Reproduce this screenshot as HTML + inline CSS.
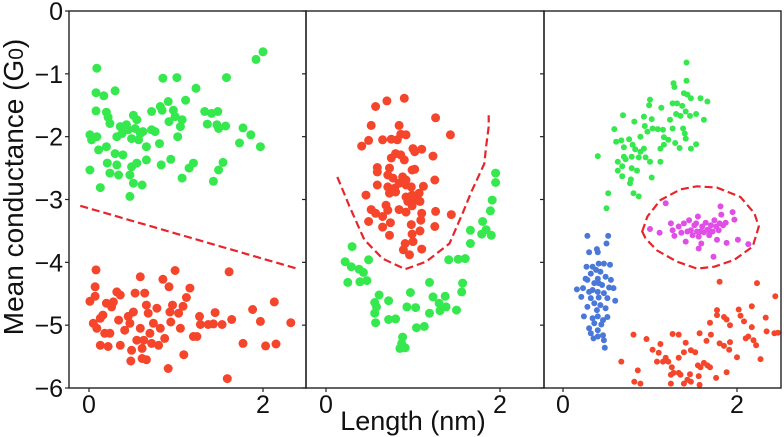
<!DOCTYPE html>
<html><head><meta charset="utf-8"><style>
html,body{margin:0;padding:0;background:#fff;}
svg{display:block;font-family:"Liberation Sans",sans-serif;}
</style></head><body>
<svg id="chart" width="784" height="437" viewBox="0 0 784 437" xmlns="http://www.w3.org/2000/svg">
<text x="0" y="0" transform="translate(23,187) rotate(-90)" text-anchor="middle" font-size="28" fill="#111">Mean conductance (G<tspan font-size="21">0</tspan>)</text>
<text x="413" y="430" text-anchor="middle" font-size="27" fill="#111">Length (nm)</text>
<g id="marks"></g>
<g id="axes"></g>
</svg>
<script>
const yTicks=[0,-1,-2,-3,-4,-5,-6];
const yTickLabels=["0","\u22121","\u22122","\u22123","\u22124","\u22125","\u22126"];
const xTicks=[0,2];
const xTickLabels=["0","2"];
// panel 1
const p1GreenX=[0.09,0.08,0.17,0.30,0.08,0.20,0.22,0.24,0.01,0.03,0.09,0.11,0.13,0.01,0.20,0.21,0.24,0.34,0.30,0.32,0.36,0.38,0.43,0.45,0.32,0.39,0.49,0.51,0.55,0.53,0.59,0.57,0.62,0.49,0.55,0.47,0.51,0.61,0.47,0.66,0.66,0.72,0.72,0.76,0.82,0.84,0.81,0.83,0.85,0.91,0.97,0.99,0.92,0.94,1.02,1.05,1.07,1.01,1.11,1.07,1.15,1.20,1.23,1.33,1.36,1.41,1.48,1.47,1.49,1.43,1.49,1.54,1.58,1.57,1.73,1.77,1.86,1.97,1.92,2.00];
const p1GreenY=[-0.91,-1.30,-1.35,-1.27,-1.59,-1.61,-1.69,-1.79,-1.97,-2.05,-2.00,-2.21,-2.81,-2.53,-2.16,-2.42,-2.58,-2.61,-2.27,-2.00,-1.84,-1.95,-1.81,-1.89,-2.45,-2.29,-2.03,-1.66,-1.73,-1.87,-1.95,-2.05,-1.92,-2.48,-2.42,-2.61,-2.74,-2.77,-2.95,-2.16,-2.37,-1.60,-1.89,-1.92,-1.52,-1.58,-2.11,-2.45,-1.07,-1.44,-1.58,-1.68,-1.76,-2.36,-2.00,-1.84,-1.73,-1.06,-1.42,-2.66,-2.50,-2.42,-1.23,-1.60,-1.80,-1.63,-1.60,-1.81,-1.87,-2.71,-2.53,-2.41,-1.06,-1.83,-2.10,-1.86,-1.97,-2.16,-0.77,-0.65];
const p1RedX=[0.08,0.07,0.07,0.01,0.05,0.09,0.13,0.16,0.20,0.26,0.28,0.32,0.36,0.13,0.22,0.18,0.24,0.34,0.36,0.41,0.45,0.47,0.49,0.48,0.51,0.53,0.55,0.59,0.61,0.63,0.61,0.66,0.59,0.64,0.66,0.68,0.70,0.72,0.74,0.78,0.80,0.82,0.85,0.87,0.91,0.93,0.94,0.92,0.96,0.99,1.03,1.05,1.08,1.09,1.12,1.16,1.20,1.24,1.27,1.28,1.37,1.43,1.45,1.53,1.61,1.59,1.64,1.77,1.88,1.97,2.03,2.13,2.15,2.32];
const p1RedY=[-4.12,-4.39,-4.54,-4.62,-4.97,-5.05,-4.89,-4.84,-4.65,-4.71,-4.63,-4.47,-4.52,-5.32,-5.34,-5.13,-5.13,-4.92,-5.32,-5.08,-4.86,-4.97,-5.40,-5.57,-4.79,-4.49,-5.24,-5.05,-5.37,-5.24,-5.53,-5.55,-4.23,-4.49,-4.68,-4.81,-5.13,-5.29,-4.97,-4.73,-5.32,-5.05,-4.27,-5.21,-5.69,-4.79,-4.95,-4.39,-4.68,-4.13,-4.81,-5.05,-4.70,-5.47,-4.56,-4.41,-5.18,-5.18,-4.86,-4.99,-4.99,-4.98,-4.80,-4.99,-4.15,-5.85,-4.91,-5.29,-4.75,-4.94,-5.33,-4.63,-5.30,-4.96];
const p1LineX=[-0.10,2.39];
const p1LineY=[-3.10,-4.10];
// panel 2
const p2RedX=[0.57,0.70,0.90,1.26,1.43,0.52,0.84,0.49,0.41,0.65,0.75,0.82,0.86,0.92,1.00,1.10,1.23,0.75,0.80,0.86,0.90,1.02,0.59,0.59,0.73,0.71,0.77,0.88,0.92,0.99,1.02,1.25,0.59,0.71,0.79,0.84,0.92,0.98,1.12,0.46,0.73,0.80,0.92,0.99,1.07,1.03,0.94,0.99,1.08,0.52,0.57,0.69,0.71,0.65,0.84,0.92,1.10,1.09,1.26,1.44,0.49,0.65,0.74,0.98,1.25,0.73,0.99,1.08,1.00,0.91,0.89,0.96,1.10];
const p2RedY=[-1.52,-1.43,-1.39,-1.70,-1.97,-1.82,-1.82,-2.06,-2.15,-2.05,-2.04,-2.05,-1.96,-1.97,-2.19,-2.20,-2.31,-2.34,-2.27,-2.29,-2.37,-2.24,-2.49,-2.56,-2.50,-2.61,-2.66,-2.64,-2.69,-2.53,-2.52,-2.69,-2.77,-2.80,-2.82,-2.74,-2.77,-2.80,-2.79,-2.93,-2.90,-2.88,-2.96,-2.93,-2.90,-3.01,-3.03,-3.10,-3.03,-3.16,-3.22,-3.09,-3.17,-3.27,-3.16,-3.20,-3.22,-3.33,-3.19,-3.24,-3.35,-3.44,-3.37,-3.40,-3.43,-3.57,-3.55,-3.50,-3.67,-3.70,-3.80,-3.88,-3.79];
const p2GreenX=[1.95,1.95,1.91,1.89,1.80,1.84,1.79,1.90,1.66,1.66,1.60,1.52,1.41,0.30,0.22,0.29,0.38,0.43,0.49,0.25,0.39,0.47,0.61,0.56,0.58,0.56,0.57,0.72,0.72,0.80,0.93,0.97,1.03,1.04,1.13,0.88,0.87,0.85,0.91,1.19,1.23,1.19,1.30,1.31,1.37,1.38,1.50,1.56,1.57];
const p2GreenY=[-2.58,-2.73,-3.01,-3.18,-3.35,-3.48,-3.55,-3.57,-3.49,-3.70,-3.94,-3.95,-3.96,-3.75,-3.99,-4.07,-4.11,-4.16,-3.96,-4.32,-4.31,-4.29,-4.52,-4.64,-4.71,-4.81,-4.96,-4.61,-4.91,-4.90,-4.71,-4.48,-4.72,-5.04,-5.02,-5.19,-5.29,-5.37,-5.36,-4.32,-4.55,-4.81,-4.65,-4.77,-4.54,-4.71,-4.76,-4.47,-4.33];
const p2CurveX=[0.13,0.27,0.44,0.65,0.91,1.15,1.42,1.57,1.67,1.82,1.84,1.87,1.87];
const p2CurveY=[-2.64,-3.11,-3.64,-3.94,-4.11,-3.99,-3.70,-3.22,-2.88,-2.43,-2.16,-1.84,-1.66];
// panel 3
const p3GreenX=[1.42,1.42,1.27,1.28,1.39,1.43,1.47,1.58,1.66,1.26,1.31,1.00,0.99,1.13,1.37,1.41,1.30,1.35,1.46,1.53,1.62,0.69,0.82,0.93,1.02,1.23,0.94,1.03,1.09,1.15,1.26,1.38,0.59,0.97,0.89,1.16,1.21,1.29,1.40,1.41,1.53,0.61,0.67,0.76,0.80,0.70,0.83,0.93,0.89,1.16,1.12,1.34,1.47,0.40,0.70,0.72,0.79,0.87,0.95,1.00,1.12,0.63,0.68,0.79,0.85,0.63,0.68,1.02,0.78,0.77,0.81,0.87,0.52,0.50];
const p3GreenY=[-0.82,-1.11,-1.15,-1.21,-1.31,-1.33,-1.39,-1.39,-1.44,-1.47,-1.47,-1.41,-1.50,-1.54,-1.51,-1.60,-1.64,-1.67,-1.67,-1.64,-1.73,-1.66,-1.76,-1.68,-1.72,-1.73,-1.83,-1.87,-1.88,-1.89,-1.87,-1.87,-1.88,-1.92,-2.00,-2.01,-2.05,-2.10,-1.95,-2.03,-2.12,-2.08,-2.06,-2.04,-2.13,-2.17,-2.20,-2.19,-2.24,-2.13,-2.19,-2.18,-2.19,-2.31,-2.32,-2.36,-2.32,-2.33,-2.33,-2.40,-2.40,-2.40,-2.47,-2.50,-2.54,-2.54,-2.63,-2.65,-2.68,-2.74,-2.90,-2.95,-2.90,-3.14];
const p3MagX=[1.18,1.00,1.11,1.24,1.26,1.28,1.33,1.36,1.39,1.41,1.45,1.47,1.49,1.51,1.54,1.55,1.56,1.56,1.59,1.60,1.62,1.64,1.66,1.68,1.70,1.72,1.73,1.74,1.76,1.77,1.79,1.80,1.81,1.82,1.84,1.87,1.88,1.95,1.97,2.01,2.13,1.53,1.58,1.43,1.68];
const p3MagY=[-3.06,-3.47,-3.53,-3.38,-3.49,-3.58,-3.43,-3.53,-3.38,-3.67,-3.33,-3.49,-3.57,-3.41,-3.51,-3.27,-3.59,-3.78,-3.70,-3.43,-3.52,-3.37,-3.48,-3.57,-3.41,-3.51,-3.91,-3.33,-3.43,-3.64,-3.49,-3.38,-3.11,-3.24,-3.41,-3.37,-3.69,-3.20,-3.32,-3.64,-3.71,-3.38,-3.51,-3.51,-3.49];
const p3BlueX=[0.28,0.52,0.50,0.39,0.30,0.40,0.41,0.47,0.54,0.27,0.34,0.38,0.43,0.32,0.26,0.40,0.49,0.55,0.36,0.45,0.53,0.58,0.16,0.23,0.30,0.40,0.47,0.21,0.32,0.41,0.51,0.60,0.36,0.43,0.28,0.39,0.49,0.24,0.34,0.40,0.46,0.51,0.36,0.44,0.30,0.40,0.32,0.46,0.35,0.40,0.47,0.48,0.28,0.34,0.41];
const p3BlueY=[-3.58,-3.58,-3.70,-3.79,-3.84,-3.84,-4.02,-4.02,-4.04,-4.07,-4.07,-4.12,-4.15,-4.18,-4.26,-4.26,-4.23,-4.28,-4.33,-4.36,-4.40,-4.41,-4.43,-4.41,-4.47,-4.47,-4.49,-4.55,-4.57,-4.56,-4.57,-4.61,-4.65,-4.68,-4.71,-4.76,-4.73,-4.86,-4.89,-4.86,-4.92,-4.87,-4.97,-4.99,-5.05,-5.08,-5.13,-5.16,-5.21,-5.18,-5.24,-5.36,-4.28,-4.44,-4.33];
const p3RedX=[1.80,2.23,2.44,1.77,1.77,1.85,1.88,1.69,1.92,2.02,2.04,2.17,2.08,2.17,2.33,2.34,2.43,2.47,0.81,0.96,1.12,1.03,1.10,1.26,1.33,1.41,1.39,1.47,1.52,1.57,1.65,1.70,1.80,1.85,1.92,1.91,2.10,2.13,2.19,2.22,2.00,2.27,0.67,0.86,0.82,0.89,1.08,1.15,1.18,1.21,1.25,1.24,1.27,1.33,1.33,1.35,1.46,1.43,1.55,1.58,1.56,1.62,1.66,1.69,1.76,1.88,1.57,1.24,1.39,1.47];
const p3RedY=[-4.31,-4.33,-4.54,-4.76,-4.84,-4.87,-4.91,-4.96,-5.00,-4.75,-4.85,-4.70,-4.94,-5.03,-4.88,-5.10,-5.13,-5.12,-5.15,-5.22,-5.30,-5.39,-5.44,-5.14,-5.15,-5.28,-5.43,-5.40,-5.43,-5.13,-5.25,-5.15,-5.29,-5.33,-5.27,-5.39,-5.21,-5.18,-5.24,-5.32,-5.51,-5.54,-5.58,-5.72,-5.90,-5.93,-5.58,-5.58,-5.52,-5.58,-5.67,-5.79,-5.76,-5.52,-5.76,-5.79,-5.78,-5.87,-5.64,-5.67,-5.81,-5.60,-5.64,-5.67,-5.84,-5.75,-5.95,-5.93,-5.93,-5.90];
const p3EllX=[0.91,0.97,1.12,1.35,1.54,1.77,2.04,2.20,2.25,2.18,1.97,1.74,1.54,1.31,1.08,0.95,0.91];
const p3EllY=[-3.51,-3.27,-3.01,-2.84,-2.79,-2.81,-2.96,-3.22,-3.43,-3.75,-3.96,-4.07,-4.10,-3.99,-3.81,-3.62,-3.51];

const NS="http://www.w3.org/2000/svg";
const panels=[{l:69,r:306,x0:89},{l:306,r:544,x0:326},{l:544,r:781,x0:563}];
const TOP=11,BOT=388,XS=87;
function yPx(v){return TOP+(0-v)*(BOT-TOP)/6;}
function xPx(p,v){return panels[p].x0+v*XS;}
const marks=document.getElementById('marks');
const axes=document.getElementById('axes');
function clip(p){
  const id='clip'+p;
  if(!document.getElementById(id)){
    let cp=document.createElementNS(NS,'clipPath');cp.setAttribute('id',id);
    let r=document.createElementNS(NS,'rect');
    r.setAttribute('x',panels[p].l);r.setAttribute('y',TOP);r.setAttribute('width',panels[p].r-panels[p].l);r.setAttribute('height',BOT-TOP);
    cp.appendChild(r);document.getElementById('chart').appendChild(cp);
  }
  return 'url(#'+id+')';
}
function scatter(p,xs,ys,color,rad,name){
  const g=document.createElementNS(NS,'g');
  
  
  g.setAttribute('clip-path',clip(p));
  for(let i=0;i<xs.length;i++){
    const c=document.createElementNS(NS,'circle');
    
    
    c.setAttribute('cx',xPx(p,xs[i]).toFixed(1));c.setAttribute('cy',yPx(ys[i]).toFixed(1));
    c.setAttribute('r',rad);c.setAttribute('fill',color);
    g.appendChild(c);
  }
  marks.appendChild(g);
}
function dashed(p,xs,ys,name,close){
  const pl=document.createElementNS(NS,'path');
  
  
  let d='';
  for(let i=0;i<xs.length;i++)d+=(i?'L':'M')+xPx(p,xs[i]).toFixed(1)+','+yPx(ys[i]).toFixed(1);
  if(close)d+='Z';
  pl.setAttribute('d',d);pl.setAttribute('fill','none');pl.setAttribute('stroke','#e8242c');
  pl.setAttribute('stroke-width','2.2');pl.setAttribute('stroke-dasharray','8,4');
  marks.appendChild(pl);
}
const GREEN='#35e84e',RED='#f5452b',BLUE='#4a78d8',MAG='#e04ee6';
scatter(0,p1GreenX,p1GreenY,GREEN,4.5,'panel1-green-points');
scatter(0,p1RedX,p1RedY,RED,4.5,'panel1-red-points');
dashed(0,p1LineX,p1LineY,'panel1-divider-line',false);
scatter(1,p2RedX,p2RedY,RED,4.5,'panel2-red-points');
scatter(1,p2GreenX,p2GreenY,GREEN,4.5,'panel2-green-points');
dashed(1,p2CurveX,p2CurveY,'panel2-boundary-curve',false);
scatter(2,p3GreenX,p3GreenY,GREEN,3,'panel3-green-points');
scatter(2,p3MagX,p3MagY,MAG,3,'panel3-magenta-points');
scatter(2,p3BlueX,p3BlueY,BLUE,3,'panel3-blue-points');
scatter(2,p3RedX,p3RedY,RED,3,'panel3-red-points');
dashed(2,p3EllX,p3EllY,'panel3-ellipse-boundary',true);

function line(x1,y1,x2,y2,name,w){
  const l=document.createElementNS(NS,'line');
  
  
  l.setAttribute('x1',x1);l.setAttribute('y1',y1);l.setAttribute('x2',x2);l.setAttribute('y2',y2);
  l.setAttribute('stroke','#222');l.setAttribute('stroke-width',w||1.4);
  axes.appendChild(l);
}
function txt(x,y,s,anchor,name){
  const t=document.createElementNS(NS,'text');
  
  
  t.setAttribute('x',x);t.setAttribute('y',y);t.setAttribute('text-anchor',anchor);
  t.setAttribute('font-size','25');t.setAttribute('fill','#111');t.textContent=s;
  axes.appendChild(t);
}
panels.forEach((pn,p)=>{
  const r=document.createElementNS(NS,'rect');
  
  
  r.setAttribute('x',pn.l);r.setAttribute('y',TOP);r.setAttribute('width',pn.r-pn.l);r.setAttribute('height',BOT-TOP);
  r.setAttribute('fill','none');r.setAttribute('stroke','#222');r.setAttribute('stroke-width','1.4');
  axes.appendChild(r);
  yTicks.forEach(v=>line(pn.l-4,yPx(v),pn.l,yPx(v),'y-tick',1.2));
  xTicks.forEach((v,i)=>{
    line(xPx(p,v),BOT,xPx(p,v),BOT+4,'x-tick',1.2);
    txt(xPx(p,v),413,xTickLabels[i],'middle','x-tick-label');
  });
});
yTicks.forEach((v,i)=>txt(63,yPx(v)+9,yTickLabels[i],'end','y-tick-label'));
</script>
</body></html>
